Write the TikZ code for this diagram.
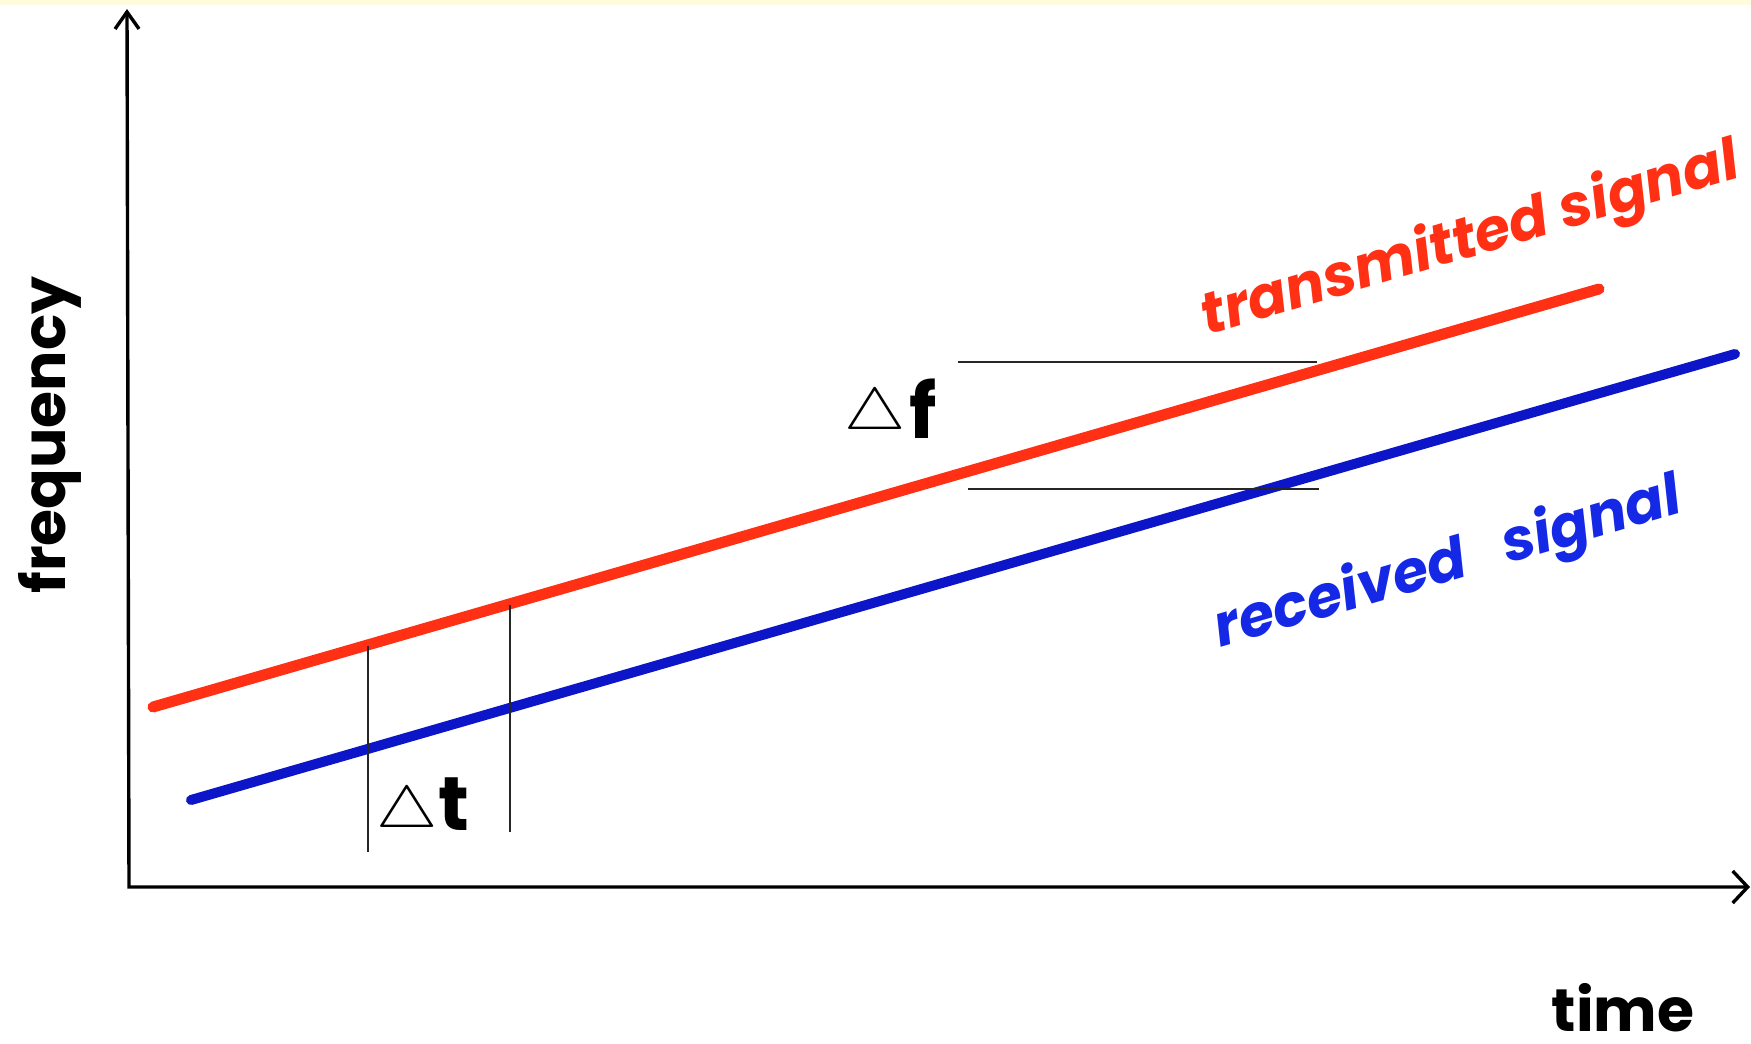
\documentclass[tikz,border=0pt]{standalone}
\usepackage{graphicx}
\usepackage{fontspec}
\setmainfont{Poppins}
\usetikzlibrary{arrows.meta}
\definecolor{sigred}{RGB}{255,48,20}
\definecolor{sigblue}{RGB}{12,22,200}
\definecolor{lblblue}{RGB}{20,40,230}
\definecolor{topband}{RGB}{255,252,222}
\newcommand{\dtri}{\scalebox{6.9}[5.9]{\fontsize{10}{12}\selectfont$\triangle$}}
\begin{document}
\begin{tikzpicture}[x=1pt,y=-1pt,
  axis/.style={line width=3.4pt, black},
  sig/.style={line width=11pt, line cap=round},
  guide/.style={line width=1.6pt, black!85},
  lab/.style={font=\fontsize{60}{60}\selectfont\bfseries, inner sep=0pt},
  dlab/.style={font=\fontsize{76}{76}\selectfont\bfseries, inner sep=0pt},
  slab/.style={font=\fontsize{58}{58}\selectfont\bfseries\itshape, inner sep=0pt}]
\useasboundingbox (0,0) rectangle (1751,1044);
\fill[topband] (0,0) rectangle (1751,5);
% axes
\coordinate (O) at (129,887);
\coordinate (Ytip) at (127,9);
\coordinate (Xtip) at (1750,887);
\draw[axis, {Straight Barb[length=17pt,width=24pt]}-{Straight Barb[length=15pt,width=32pt]}] (Ytip) -- (O) -- (Xtip);
% signals
\coordinate (r1) at (153,707);
\coordinate (r2) at (1599,289);
\coordinate (b1) at (191,800);
\coordinate (b2) at (1735,354);
\draw[sig, sigred] (r1) -- (r2);
\draw[sig, sigblue, line width=10pt] (b1) -- (b2);
% guides
\coordinate (v1t) at (368,646);
\coordinate (v1b) at (368,852);
\coordinate (v2t) at (510,605);
\coordinate (v2b) at (510,832);
\coordinate (h1l) at (958,362);
\coordinate (h1r) at (1317,362);
\coordinate (h2l) at (968,489);
\coordinate (h2r) at (1319,489);
\draw[guide] (v1t) -- (v1b);
\draw[guide] (v2t) -- (v2b);
\draw[guide] (h1l) -- (h1r);
\draw[guide] (h2l) -- (h2r);
% labels
\node[lab, rotate=90] (freq) at (50,435) {frequency};
\node[lab, anchor=base] (time) at (1623,1031) {time};
\node[dlab, anchor=base west] (dt) at (376,830) {\raisebox{3pt}{\dtri}\hspace{1pt}t};
\node[dlab, anchor=base west] (df) at (844,438) {\raisebox{9pt}{\dtri}\hspace{4pt}f};
\node[slab, text=sigred, rotate=16.5, anchor=base] (tx) at (1475,256) {transmitted signal};
\node[slab, text=lblblue, rotate=16.3, anchor=base] (rx) at (1453,580) {received\hspace{0.45em} signal};
\end{tikzpicture}
\end{document}
